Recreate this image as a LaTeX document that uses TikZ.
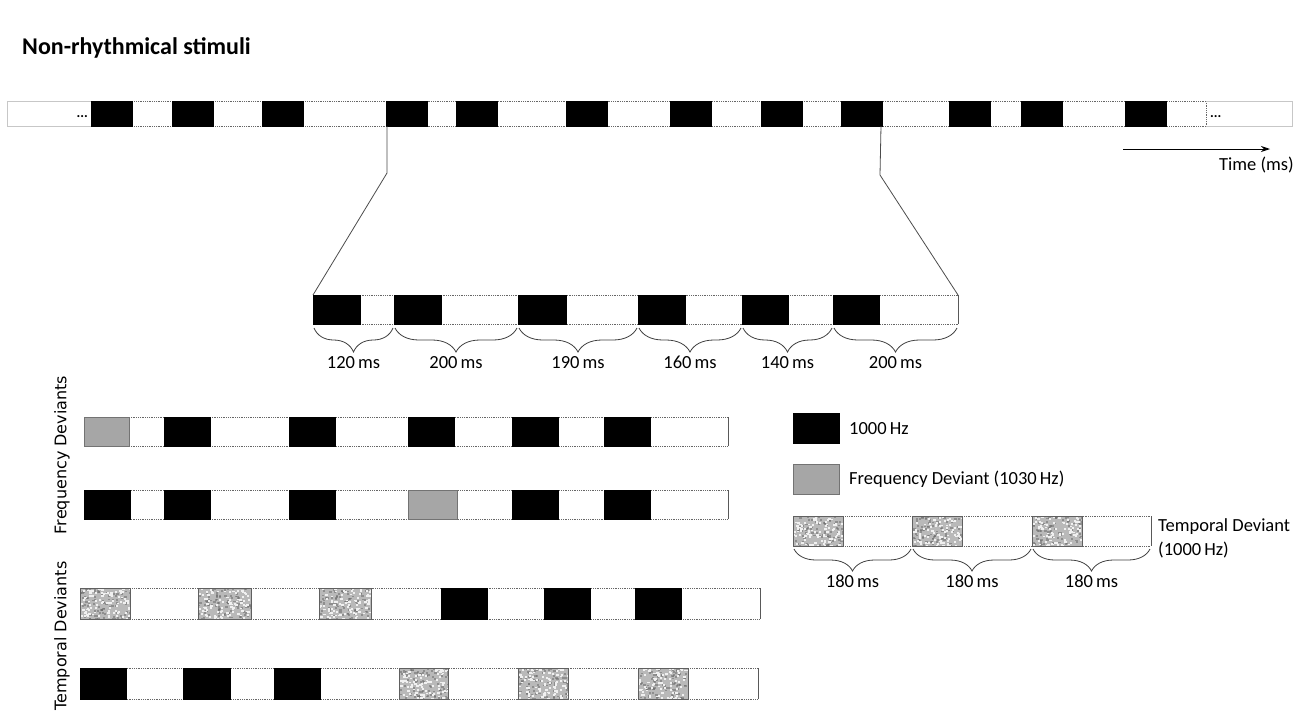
\documentclass[tikz,border=0pt]{standalone}
\usepackage{fontspec}
\setmainfont{Carlito}
\newfontfamily\vfont{DejaVu Sans}
\usetikzlibrary{arrows.meta,decorations.pathreplacing}
\newcommand\noisebox[4]{%
  \begin{scope}
    \clip (#1,#2) rectangle (#3,#4);
    \fill[gray!55] (#1,#2) rectangle (#3,#4);
    \foreach \k in {1,...,90}{\fill[gray!85!black,opacity=.55] ({#1+rnd*(#3-#1)},{#2+rnd*(#4-#2)}) rectangle ++(2.2,1.8);}
    \foreach \k in {1,...,90}{\fill[gray!12] ({#1+rnd*(#3-#1)},{#2+rnd*(#4-#2)}) rectangle ++(2.2,1.8);}
  \end{scope}
  \draw[gray!75!black,line width=0.8pt] (#1,#2) rectangle (#3,#4);}
\begin{document}
\begin{tikzpicture}[x=1pt,y=-1pt,
  tone/.style={fill=black,draw=black},
  fdev/.style={fill=black!35,draw=black!55,line width=0.8pt},
  gapline/.style={draw=black!60,densely dotted,line width=0.8pt},
  endline/.style={draw=black!65,line width=0.8pt},
  lightbox/.style={draw=black!22,line width=0.8pt},
  conn/.style={draw=black!70,line width=0.8pt},
  lbl/.style={font=\fontsize{18.5}{22}\selectfont,inner sep=0pt},
  dots/.style={font=\fontsize{14}{15}\selectfont\bfseries,inner sep=0pt},
  vlbl/.style={font=\vfont\fontsize{16}{19}\selectfont,rotate=90,inner sep=0pt},
  brc/.style={decorate,decoration={brace,amplitude=24pt,mirror,aspect=0.5},draw=black!75,line width=0.8pt},
  brcs/.style={decorate,decoration={brace,amplitude=22pt,mirror},draw=black!75,line width=0.8pt}]
\pgfmathsetseed{7}
\useasboundingbox (0,0) rectangle (1309,716);
\fill[white] (0,0) rectangle (1309,716);

% title
\node[anchor=west,font=\fontsize{24}{28}\selectfont\bfseries,inner sep=0pt] (title) at (22,48) {Non-rhythmical stimuli};

% top strip
\draw[lightbox] (91,101) -- (7,101) -- (7,126) -- (91,126);
\draw[gapline] (91,101) -- (1206,101);
\draw[gapline] (91,126) -- (1206,126);
\draw[gapline] (1206,101) -- (1206,126);
\draw[lightbox] (1206,101) -- (1292,101) -- (1292,126) -- (1206,126);
\foreach \a/\b in {91/132,172/213,262/303,386/427,456/497,566/607,670/711,761/802,841/882,949/990,1021/1062,1125/1166}
  \filldraw[tone] (\a,101) rectangle (\b,126);
\node[dots,anchor=east] (dotsL) at (88,117) {...};
\node[dots,anchor=west] (dotsR) at (1210,117) {...};

% time arrow
\coordinate (t0) at (1123,149);
\coordinate (t1) at (1270,149);
\draw[black,line width=0.9pt,-{Stealth[length=9pt,width=6pt]}] (t0) -- (t1);
\node[lbl,anchor=east] (time) at (1294,165) {Time (ms)};

% connectors
\coordinate (A0) at (387,126);
\coordinate (A1) at (387,173);
\coordinate (A2) at (313,295);
\coordinate (B0) at (881,126);
\coordinate (B1) at (880,175);
\coordinate (B2) at (958,295);
\draw[conn] (A0) -- (A1) -- (A2);
\draw[conn] (B0) -- (B1) -- (B2);

% zoomed strip
\draw[gapline] (313,295) -- (958,295);
\draw[gapline] (313,324) -- (958,324);
\draw[endline] (958,295) -- (958,324);
\foreach \a/\b in {313/360,394/441,518/566,638/685,742/788,833/879}
  \filldraw[tone] (\a,295) rectangle (\b,324);
\foreach \a/\b/\t [count=\i] in {313/394/120,394/518/200,518/638/190,638/742/160,742/833/140,833/958/200}{
  \draw[brc] (\a+1,328) -- (\b-1,328);
  \node[lbl,anchor=base] (z\i) at ({(\a+\b)/2},368) {\t\,ms};
}

% frequency deviants
\node[vlbl] (fdl) at (62,455) {Frequency Deviants};
\draw[gapline] (84,417) -- (728,417);
\draw[gapline] (84,446) -- (728,446);
\draw[endline] (728,417) -- (728,446);
\filldraw[fdev] (84,417) rectangle (129,446);
\foreach \a/\b in {164/210,289/335,408/454,512/558,604/650}
  \filldraw[tone] (\a,417) rectangle (\b,446);

\draw[gapline] (84,490) -- (728,490);
\draw[gapline] (84,519) -- (728,519);
\draw[endline] (728,490) -- (728,519);
\foreach \a/\b in {84/130,164/210,289/335,512/558,604/650}
  \filldraw[tone] (\a,490) rectangle (\b,519);
\filldraw[fdev] (408,490) rectangle (457,519);

% temporal deviants
\node[vlbl] (tdl) at (62,636) {Temporal Deviants};
\draw[gapline] (80,588) -- (760,588);
\draw[gapline] (80,619) -- (760,619);
\draw[endline] (760,588) -- (760,619);
\noisebox{80}{588}{130}{619}
\noisebox{198}{588}{251}{619}
\noisebox{319}{588}{371}{619}
\foreach \a/\b in {441/487,544/590,635/681}
  \filldraw[tone] (\a,588) rectangle (\b,619);

\draw[gapline] (80,668) -- (758,668);
\draw[gapline] (80,699) -- (758,699);
\draw[endline] (758,668) -- (758,699);
\foreach \a/\b in {80/126,183/230,274/320}
  \filldraw[tone] (\a,668) rectangle (\b,699);
\noisebox{399}{668}{448}{699}
\noisebox{518}{668}{568}{699}
\noisebox{638}{668}{688}{699}

% legend
\filldraw[tone] (793,413) rectangle (839,443);
\node[lbl,anchor=west] (l1) at (849,429) {1000\,Hz};
\filldraw[fdev] (793,464) rectangle (839,494);
\node[lbl,anchor=west] (l2) at (849,479) {Frequency Deviant (1030\,Hz)};

\draw[gapline] (793,516) -- (1151,516);
\draw[gapline] (793,546) -- (1151,546);
\draw[endline] (1151,516) -- (1151,546);
\noisebox{793}{516}{843}{546}
\noisebox{912}{516}{962}{546}
\noisebox{1032}{516}{1082}{546}
\foreach \a/\b [count=\i] in {793/912,912/1032,1032/1151}{
  \draw[brcs] (\a+1,549) -- (\b-1,549);
  \node[lbl,anchor=base] (s\i) at ({(\a+\b)/2},587) {180\,ms};
}
\node[lbl,anchor=west] (l3) at (1158,527) {Temporal Deviant};
\node[lbl,anchor=west] (l4) at (1158,550) {(1000\,Hz)};
\end{tikzpicture}
\end{document}
